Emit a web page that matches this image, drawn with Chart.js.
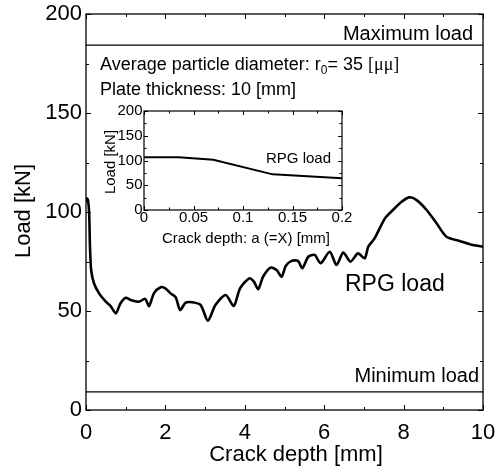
<!DOCTYPE html>
<html>
<head>
<meta charset="utf-8">
<script src="https://cdn.jsdelivr.net/npm/chart.js@4.4.0/dist/chart.umd.min.js"></script>
<style>
  html, body { margin: 0; padding: 0; background: #fff; }
  #wrap { position: relative; width: 498px; height: 472px; }
  #inset { position: absolute; left: 90px; top: 95px; width: 270px; height: 160px; }
</style>
</head>
<body>
<div id="wrap">
  <canvas id="mainChart" width="498" height="472"></canvas>
  <div id="inset"><canvas id="insetChart" width="270" height="160"></canvas></div>
</div>
<script>
// main curve: crack depth [mm] vs RPG load [kN]
const crackDepth = [0, 0.02, 0.05, 0.08, 0.10, 0.13, 0.20, 0.33, 0.50, 0.62,
  0.75, 0.87, 1.0, 1.12, 1.33, 1.49, 1.59, 1.71, 1.88, 2.0,
  2.13, 2.26, 2.37, 2.51, 2.68, 2.89, 3.07, 3.26, 3.52, 3.72,
  3.88, 4.11, 4.23, 4.34, 4.46, 4.65, 4.80, 4.93, 5.03, 5.18,
  5.34, 5.45, 5.60, 5.76, 5.91, 6.14, 6.31, 6.48, 6.66, 6.85,
  7.02, 7.11, 7.27, 7.53, 7.73, 7.95, 8.14, 8.32, 8.58, 8.83,
  9.08, 9.41, 9.75, 10.0];
const rpgLoad = [105, 106.9, 106, 99.3, 82.5, 70.7, 64, 58.9, 54.7, 52.5,
  48.8, 53.9, 56.7, 55.6, 54.7, 56.1, 52.5, 58.9, 62, 61.4,
  58.9, 56.9, 50.5, 54.2, 54.4, 53, 45.1, 53, 58.1, 52.5,
  61.4, 66.5, 64.8, 61, 67.3, 71.9, 70.7, 67.3, 72.7, 75.3,
  75.3, 71.6, 77.4, 78.3, 74.1, 79.9, 73.2, 79.5, 74.9, 79.1,
  76.6, 82.5, 86.7, 96.8, 101, 105.2, 107.4, 106.1, 101, 94.3,
  87.5, 85.4, 83.3, 82.5];
const maxLoad = 184.3;
const minLoad = 9.2;

// inset: early crack depth
const insetDepth = [0, 0.035, 0.07, 0.13, 0.2];
const insetLoad = [106.5, 106.5, 101.5, 72, 64];

const xTicksMain = [0, 2, 4, 6, 8, 10];
const yTicksMain = [0, 50, 100, 150, 200];
const xTicksInset = [0, 0.05, 0.1, 0.15, 0.2];
const yTicksInset = [0, 50, 100, 150, 200];

const FONT = 'Liberation Sans, Arial, sans-serif';
Chart.defaults.font.family = FONT;
Chart.defaults.color = '#000';

const toPts = (xs, ys) => xs.map((x, i) => ({x: x, y: ys[i]}));

// box frame + inward ticks on all four sides
const frameTicks = {
  id: 'frameTicks',
  afterDatasetsDraw(chart, args, o) {
    const {ctx, chartArea: a, scales: {x, y}} = chart;
    ctx.save();
    ctx.strokeStyle = '#000';
    ctx.lineWidth = o.lw;
    ctx.strokeRect(a.left, a.top, a.width, a.height);
    ctx.lineWidth = 1;
    ctx.beginPath();
    for (let i = 0; i <= Math.round((x.max - x.min) / o.xMinor); i++) {
      const v = x.min + i * o.xMinor;
      const px = Math.round(x.getPixelForValue(v)) + 0.5;
      const r = v / o.xMajor;
      const len = Math.abs(r - Math.round(r)) < 1e-6 ? o.major : o.minor;
      ctx.moveTo(px, a.bottom); ctx.lineTo(px, a.bottom - len);
      ctx.moveTo(px, a.top); ctx.lineTo(px, a.top + len);
    }
    for (let i = 0; i <= Math.round((y.max - y.min) / o.yMinor); i++) {
      const v = y.min + i * o.yMinor;
      const py = Math.round(y.getPixelForValue(v)) + 0.5;
      const r = v / o.yMajor;
      const len = Math.abs(r - Math.round(r)) < 1e-6 ? o.major : o.minor;
      ctx.moveTo(a.left, py); ctx.lineTo(a.left + len, py);
      ctx.moveTo(a.right, py); ctx.lineTo(a.right - len, py);
    }
    ctx.stroke();
    ctx.restore();
  }
};

// free text: axis titles and notes
const notes = {
  id: 'notes',
  afterDraw(chart, args, o) {
    const ctx = chart.ctx;
    ctx.save();
    ctx.fillStyle = '#000';
    o.items.forEach(t => {
      ctx.save();
      ctx.font = (t.size) + 'px ' + (t.family || FONT);
      ctx.textAlign = t.align || 'left';
      ctx.textBaseline = t.baseline || 'alphabetic';
      ctx.translate(t.x, t.y);
      if (t.rot) ctx.rotate(t.rot);
      if (t.parts) {
        let cx = 0;
        t.parts.forEach(p => {
          ctx.font = p.size + 'px ' + (p.family || FONT);
          ctx.fillText(p.text, cx, p.dy || 0);
          cx += ctx.measureText(p.text).width;
        });
      } else {
        ctx.fillText(t.text, 0, 0);
      }
      ctx.restore();
    });
    ctx.restore();
  }
};

const noGrid = { display: false, drawTicks: false };
// keep the plot area exactly where the layout padding puts it
const fixX = h => s => { s.height = h; s.paddingLeft = 0; s.paddingRight = 0; };
const fixY = w => s => { s.width = w; s.paddingTop = 0; s.paddingBottom = 0; };

new Chart(document.getElementById('mainChart'), {
  type: 'line',
  data: {
    datasets: [
      {
        data: toPts(crackDepth, rpgLoad),
        borderColor: '#000',
        borderWidth: 2.6,
        pointRadius: 0,
        tension: 0.25
      },
      {
        data: toPts([0, 10], [maxLoad, maxLoad]),
        borderColor: '#000',
        borderWidth: 1.3,
        pointRadius: 0
      },
      {
        data: toPts([0, 10], [minLoad, minLoad]),
        borderColor: '#000',
        borderWidth: 1.3,
        pointRadius: 0
      }
    ]
  },
  options: {
    responsive: false,
    animation: false,
    layout: { padding: { top: 14, right: 15, left: 0, bottom: 0 } },
    plugins: {
      legend: { display: false },
      tooltip: { enabled: false },
      frameTicks: { lw: 1.3, major: 5, minor: 3, xMajor: 2, xMinor: 1, yMajor: 50, yMinor: 25 },
      notes: {
        items: [
          { text: 'Load [kN]', size: 22, x: 24, y: 211, rot: -Math.PI / 2, align: 'center', baseline: 'middle' },
          { text: 'Crack depth [mm]', size: 22, x: 296, y: 461, align: 'center' },
          { text: 'Maximum load', size: 20, x: 473, y: 40, align: 'right' },
          { text: 'Minimum load', size: 20, x: 479, y: 382, align: 'right' },
          { text: 'RPG load', size: 23, x: 345, y: 291 },
          { x: 100, y: 70, parts: [
            { text: 'Average particle diameter: r', size: 18 },
            { text: '0', size: 12, dy: 4 },
            { text: '= 35 ', size: 18 },
            { text: '[\u03bc\u03bc]', size: 18, family: 'Liberation Serif, serif' }
          ] },
          { text: 'Plate thickness: 10 [mm]', size: 18, x: 100, y: 95 }
        ]
      }
    },
    scales: {
      x: {
        type: 'linear',
        min: 0, max: 10,
        afterFit: fixX(62),
        afterBuildTicks: s => { s.ticks = xTicksMain.map(v => ({value: v})); },
        grid: noGrid,
        border: { display: false },
        ticks: { font: { size: 22 }, padding: 10, maxRotation: 0 }
      },
      y: {
        min: 0, max: 200,
        afterFit: fixY(86),
        afterBuildTicks: s => { s.ticks = yTicksMain.map(v => ({value: v})); },
        grid: noGrid,
        border: { display: false },
        ticks: { font: { size: 22 }, padding: 4 }
      }
    }
  },
  plugins: [frameTicks, notes]
});

new Chart(document.getElementById('insetChart'), {
  type: 'line',
  data: {
    datasets: [{
      data: toPts(insetDepth, insetLoad),
      borderColor: '#000',
      borderWidth: 2,
      pointRadius: 0,
      tension: 0
    }]
  },
  options: {
    responsive: false,
    animation: false,
    layout: { padding: { top: 16, right: 18, left: 0, bottom: 0 } },
    plugins: {
      legend: { display: false },
      tooltip: { enabled: false },
      frameTicks: { lw: 1.2, major: 4, minor: 2.5, xMajor: 0.05, xMinor: 0.025, yMajor: 50, yMinor: 25 },
      notes: {
        items: [
          { text: 'Load [kN]', size: 15, x: 20.5, y: 67, rot: -Math.PI / 2, align: 'center', baseline: 'middle' },
          { text: 'Crack depth: a (=X) [mm]', size: 15, x: 156, y: 148, align: 'center' },
          { text: 'RPG load', size: 15, x: 176, y: 68 }
        ]
      }
    },
    scales: {
      x: {
        type: 'linear',
        min: 0, max: 0.2,
        afterFit: fixX(45),
        afterBuildTicks: s => { s.ticks = xTicksInset.map(v => ({value: v})); },
        grid: noGrid,
        border: { display: false },
        ticks: { font: { size: 15, lineHeight: 1 }, padding: 0, maxRotation: 0,
          callback: v => String(v) }
      },
      y: {
        min: 0, max: 200,
        afterFit: fixY(54),
        afterBuildTicks: s => { s.ticks = yTicksInset.map(v => ({value: v})); },
        grid: noGrid,
        border: { display: false },
        ticks: { font: { size: 15 }, padding: 1.5 }
      }
    }
  },
  plugins: [frameTicks, notes]
});
</script>
</body>
</html>
